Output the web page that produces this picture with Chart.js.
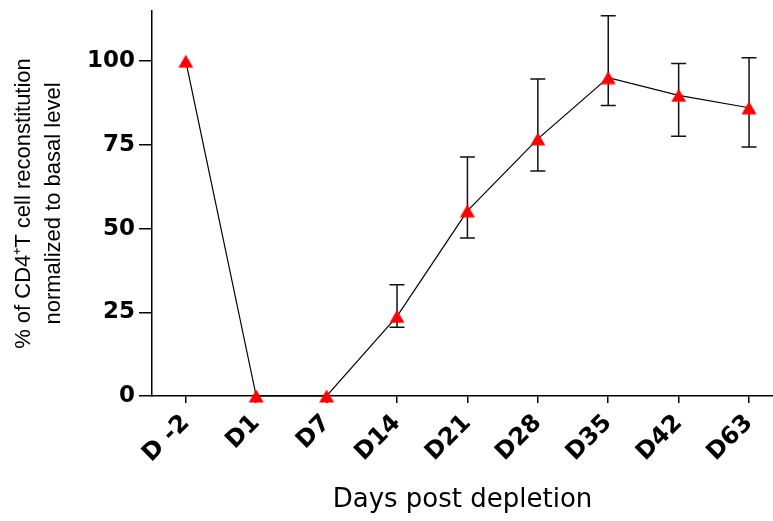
<!DOCTYPE html>
<html>
<head>
<meta charset="utf-8">
<script src="https://cdn.jsdelivr.net/npm/chart.js@4.4.1/dist/chart.umd.min.js"></script>
<style>
  body { margin: 0; background: #fff; }
  #wrap { width: 773px; height: 521px; }
</style>
</head>
<body>
<div id="wrap"><canvas id="chart" width="773" height="521"></canvas></div>
<script>
const days = ["D -2", "D1", "D7", "D14", "D21", "D28", "D35", "D42", "D63"];
const meanValues = [100, 0, 0, 23.8, 55.3, 76.8, 95.1, 89.8, 86.1];
const errLow = [null, null, null, 20.5, 47.2, 67.2, 86.8, 77.6, 74.4];
const errHigh = [null, null, null, 33.2, 71.4, 94.7, 113.6, 99.3, 101.0];
const yTicks = [0, 25, 50, 75, 100];

// red triangle marker, centred on its bounding box
const marker = document.createElement("canvas");
marker.width = 16;
marker.height = 14;
const mctx = marker.getContext("2d");
mctx.fillStyle = "#ff0000";
mctx.beginPath();
mctx.moveTo(8, 0.5);
mctx.lineTo(15.5, 13.5);
mctx.lineTo(0.5, 13.5);
mctx.closePath();
mctx.fill();

// error bars drawn under the points
const errorBars = {
  id: "errorBars",
  beforeDatasetsDraw(chart) {
    const { ctx, scales: { x, y } } = chart;
    ctx.save();
    ctx.strokeStyle = "#111";
    ctx.lineWidth = 1.5;
    days.forEach((d, i) => {
      if (errLow[i] == null) return;
      const px = x.getPixelForValue(i);
      const top = y.getPixelForValue(errHigh[i]);
      const bot = y.getPixelForValue(errLow[i]);
      ctx.beginPath();
      ctx.moveTo(px, top); ctx.lineTo(px, bot);
      ctx.moveTo(px - 7.5, top); ctx.lineTo(px + 7.5, top);
      ctx.moveTo(px - 7.5, bot); ctx.lineTo(px + 7.5, bot);
      ctx.stroke();
    });
    ctx.restore();
  }
};

const wide = "'DejaVu Sans', sans-serif";

new Chart(document.getElementById("chart").getContext("2d"), {
  type: "line",
  data: {
    datasets: [{
      data: meanValues.map((v, i) => ({ x: i, y: v })),
      borderColor: "#000",
      borderWidth: 1.2,
      pointStyle: marker,
      pointRadius: 8,
      tension: 0,
      clip: false
    }]
  },
  options: {
    responsive: false,
    animation: false,
    layout: { autoPadding: false, padding: { top: 11, right: 0, left: 0, bottom: 0 } },
    plugins: {
      legend: { display: false },
      tooltip: { enabled: false }
    },
    scales: {
      x: {
        type: "linear",
        min: -0.48,
        max: 8.34,
        afterBuildTicks: s => { s.ticks = days.map((d, i) => ({ value: i })); },
        afterFit: s => { s.height = 125; s.paddingLeft = 0; s.paddingRight = 0; },
        grid: { drawOnChartArea: false, drawTicks: true, tickLength: 7, color: "#000", lineWidth: 1.5 },
        border: { display: true, color: "#000", width: 1.5 },
        ticks: {
          autoSkip: false,
          minRotation: 45,
          maxRotation: 45,
          padding: 6,
          color: "#000",
          font: { family: wide, size: 24, weight: "bold" },
          callback: v => days[v]
        },
        title: {
          display: true,
          text: "Days post depletion",
          color: "#000",
          font: { family: wide, size: 26 },
          padding: { top: 0, bottom: 5 }
        }
      },
      y: {
        min: 0,
        max: 115,
        afterBuildTicks: s => { s.ticks = yTicks.map(v => ({ value: v })); },
        afterFit: s => { s.width = 152; s.paddingTop = 0; s.paddingBottom = 0; },
        grid: { drawOnChartArea: false, drawTicks: true, tickLength: 13, color: "#000", lineWidth: 1.5 },
        border: { display: true, color: "#000", width: 1.5 },
        ticks: {
          padding: 4,
          color: "#000",
          font: { family: wide, size: 23, weight: "bold" }
        },
        title: {
          display: true,
          text: ["% of CD4\u207AT cell reconstitution", "normalized to basal level"],
          color: "#000",
          font: { family: "'Liberation Sans', Arial, sans-serif", size: 22, lineHeight: 1.36 },
          padding: { top: 9, bottom: 0 }
        }
      }
    }
  },
  plugins: [errorBars]
});
</script>
</body>
</html>
